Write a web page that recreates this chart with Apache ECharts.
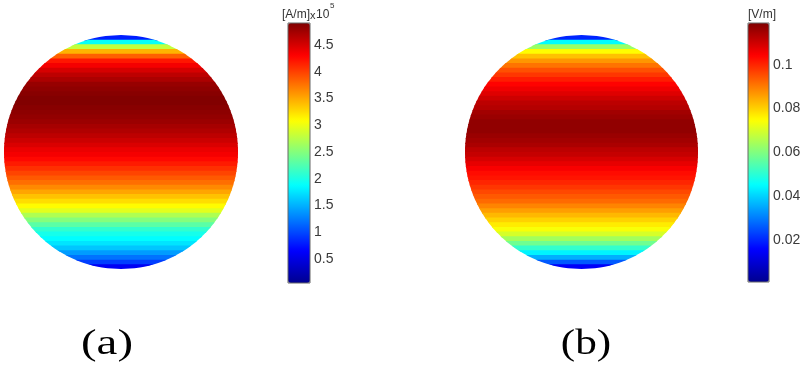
<!DOCTYPE html>
<html><head><meta charset="utf-8">
<script src="https://cdn.jsdelivr.net/npm/echarts@6/dist/echarts.min.js"></script>
<style>html,body{margin:0;padding:0;background:#fff}#c{width:807px;height:369px}</style>
</head><body><div id="c"></div>
<script>
// band centre heights on the sphere (fraction of radius, top = 1)
const latitudes = [0.98,0.94,0.90,0.86,0.82,0.78,0.74,0.70,0.66,0.62,0.58,0.54,0.50,0.46,0.42,0.38,0.34,0.30,0.26,0.22,0.18,0.14,0.10,0.06,0.02,
  -0.02,-0.06,-0.10,-0.14,-0.18,-0.22,-0.26,-0.30,-0.34,-0.38,-0.42,-0.46,-0.50,-0.54,-0.58,-0.62,-0.66,-0.70,-0.74,-0.78,-0.82,-0.86,-0.90,-0.94,-0.98];
// (a) magnetic field, x 10^5 A/m
const valuesA = [0.8,1.9,2.8,3.45,3.85,4.2,4.35,4.5,4.62,4.7,4.8,4.84,4.87,4.9,4.9,4.87,4.85,4.82,4.78,4.73,4.68,4.62,4.55,4.48,4.4,
  4.35,4.27,4.18,4.08,3.98,3.88,3.78,3.65,3.52,3.38,3.25,3.1,2.95,2.7,2.5,2.3,2.1,1.97,1.87,1.75,1.6,1.4,1.2,0.95,0.6];
// (b) electric field, V/m
const valuesB = [0.02,0.045,0.063,0.075,0.082,0.087,0.091,0.095,0.098,0.101,0.104,0.106,0.108,0.110,0.112,0.113,0.115,0.116,0.117,0.117,0.117,0.116,0.115,0.114,0.112,
  0.111,0.109,0.107,0.105,0.103,0.102,0.1,0.098,0.096,0.094,0.092,0.089,0.086,0.083,0.08,0.077,0.074,0.07,0.064,0.058,0.051,0.044,0.036,0.026,0.015];
const ticksA = [0.5,1,1.5,2,2.5,3,3.5,4,4.5];
const ticksB = [0.02,0.04,0.06,0.08,0.1];
const rangeA = [0.05, 4.91];
const rangeB = [0.001, 0.119];
const unitA = '[A/m]';
const unitB = '[V/m]';
const panelLabels = ['(a)', '(b)'];

const jet = ['#00008f','#0000ff','#0080ff','#00ffff','#80ff80','#ffff00','#ff8000','#ff0000','#800000'];
const bandHalf = 0.02;
const bandOverlap = 0.012;

function bandItem(params, api) {
  const yc = api.value(0);
  const y0 = Math.min(1, yc + bandHalf), y1 = Math.max(-1, yc - bandHalf - bandOverlap);
  const pts = [];
  const N = 6;
  for (let i = 0; i <= N; i++) { const y = y0 + (y1 - y0) * i / N; pts.push(api.coord([Math.sqrt(Math.max(0, 1 - y * y)), y])); }
  for (let i = N; i >= 0; i--) { const y = y0 + (y1 - y0) * i / N; pts.push(api.coord([-Math.sqrt(Math.max(0, 1 - y * y)), y])); }
  const c = api.visual('color');
  return { type: 'polygon', shape: { points: pts }, style: { fill: c } };
}

const chart = echarts.init(document.getElementById('c'), null, { renderer: 'canvas' });
const lblStyle = { color: '#3a3a3a', fontSize: 14, fontFamily: 'Liberation Sans, Arial, sans-serif' };
const hiddenAxis = (i, min, max) => ({ gridIndex: i, type: 'value', min: min, max: max, show: false });
const cbAxis = (i, range, ticks) => ({
  gridIndex: i, type: 'value', position: 'right', min: range[0], max: range[1],
  axisLine: { show: false }, axisTick: { show: false }, splitLine: { show: false },
  axisLabel: Object.assign({ customValues: ticks, margin: 4, showMinLabel: true, showMaxLabel: true, hideOverlap: false }, lblStyle)
});

chart.setOption({
  animation: false,
  backgroundColor: '#fff',
  grid: [
    { left: 4, top: 35, width: 234, height: 234 },
    { left: 465, top: 35, width: 233, height: 234 },
    { left: 288, top: 23, width: 22, height: 260, show: true, borderColor: '#666', borderWidth: 1, backgroundColor: 'transparent', z: 10 },
    { left: 748, top: 23, width: 21, height: 259, show: true, borderColor: '#666', borderWidth: 1, backgroundColor: 'transparent', z: 10 }
  ],
  xAxis: [hiddenAxis(0, -1, 1), hiddenAxis(1, -1, 1), hiddenAxis(2, 0, 1), hiddenAxis(3, 0, 1)],
  yAxis: [hiddenAxis(0, -1, 1), hiddenAxis(1, -1, 1), cbAxis(2, rangeA, ticksA), cbAxis(3, rangeB, ticksB)],
  visualMap: [
    { type: 'continuous', seriesIndex: 0, dimension: 1, min: rangeA[0], max: rangeA[1], inRange: { color: jet },
      left: 288, top: 23, itemWidth: 22, itemHeight: 260, padding: 0, calculable: false, text: null, hoverLink: false },
    { type: 'continuous', seriesIndex: 1, dimension: 1, min: rangeB[0], max: rangeB[1], inRange: { color: jet },
      left: 748, top: 23, itemWidth: 21, itemHeight: 259, padding: 0, calculable: false, text: null, hoverLink: false }
  ],
  series: [
    { type: 'custom', xAxisIndex: 0, yAxisIndex: 0, renderItem: bandItem, data: latitudes.map((y, i) => [y, valuesA[i]]), silent: true },
    { type: 'custom', xAxisIndex: 1, yAxisIndex: 1, renderItem: bandItem, data: latitudes.map((y, i) => [y, valuesB[i]]), silent: true }
  ],
  graphic: [
    { type: 'text', left: 282, top: 9, style: { text: unitA, font: '12px "Liberation Sans", Arial', fill: '#333' } },
    { type: 'text', left: 310, top: 10, style: { text: 'x', font: '11px "Liberation Sans", Arial', fill: '#333' } },
    { type: 'text', left: 316, top: 9, style: { text: '10', font: '12px "Liberation Sans", Arial', fill: '#333' } },
    { type: 'text', left: 330, top: 2, style: { text: '5', font: '8px "Liberation Sans", Arial', fill: '#333' } },
    { type: 'text', left: 748, top: 9, style: { text: unitB, font: '12px "Liberation Sans", Arial', fill: '#333' } },
    { type: 'text', x: 107, y: 345, scaleX: 1.3, style: { text: panelLabels[0], font: '36px "Liberation Serif", "Times New Roman", serif', fill: '#000', align: 'center', verticalAlign: 'middle' } },
    { type: 'text', x: 586, y: 345, scaleX: 1.2, style: { text: panelLabels[1], font: '36px "Liberation Serif", "Times New Roman", serif', fill: '#000', align: 'center', verticalAlign: 'middle' } }
  ]
});
</script></body></html>
